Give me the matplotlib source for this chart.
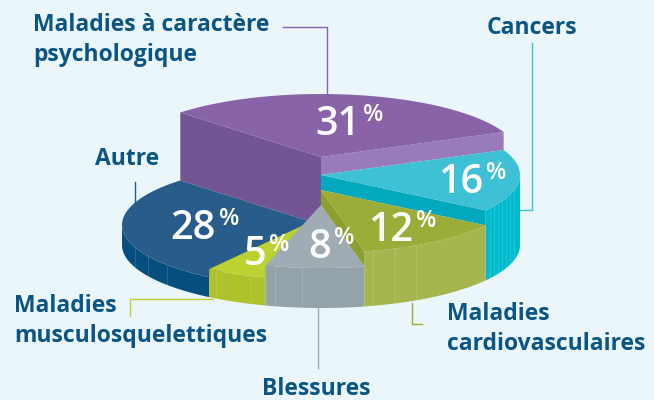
import numpy as np
import matplotlib
matplotlib.use("Agg")
import matplotlib.pyplot as plt
from matplotlib.patches import Polygon

# --- data, clockwise from the purple slice ---
categories = ["Maladies à caractère\npsychologique", "Cancers", "Maladies\ncardiovasculaires",
              "Blessures", "Maladies\nmusculosquelettiques", "Autre"]
values = [31, 16, 12, 8, 5, 28]

# --- look ---
BG = "#EAF6F9"
TXT = "#0B5585"
plt.rcParams["font.family"] = "Open Sans"

top_cols = ["#8863A8", "#3EC1D5", "#9CAC38", "#A0ACB3", "#BDD231", "#285C8A"]
rim_cols = ["#8863A8", "#00BACD", "#A7B54E", "#94A2AA", "#AFC22B", "#044F80"]
# wall on the clockwise side, and the level it drops to
wall_cols = ["#997ABA", "#00A9BE", "#8B9F2F", None, None, None]
levels = [157, 175, 190, 205, 217, 225]  # y of the slice centre on its top face
seams = [[], [490, 494, 498, 502, 506, 510, 514], [373, 395, 416], [275, 302], [216, 251], [135, 148, 167]]

CX, RX, RY, BASE = 321, 199, 63, 245
START = 135

fig = plt.figure(figsize=(6.54, 4), dpi=100, facecolor=BG)
ax = fig.add_axes([0, 0, 1, 1])
ax.set_xlim(0, 654)
ax.set_ylim(400, 0)
ax.axis("off")


def arc(a1, a2, cy):
    t = np.radians(np.linspace(a1, a2, 80))
    return np.column_stack([CX + RX * np.cos(t), cy - RY * np.sin(t)])


def wall(angle, cy, drop, col, z):
    p = arc(angle, angle, cy)[0]
    ax.add_patch(Polygon([[CX, cy], p, [p[0], p[1] + drop], [CX, cy + drop]], fc=col, ec="none", zorder=z))


# angles from the values
edges = START - np.cumsum([0] + values) * 3.6
spans = list(zip(edges[:-1], edges[1:]))


def draw_slice(i, z):
    a1, a2 = spans[i]
    cy = levels[i]
    # outer rim, only the front half shows
    if a2 < 0:
        f1, f2 = min(a1, 0), max(a2, -180)
        ax.add_patch(Polygon(np.vstack([arc(f1, f2, cy), arc(f2, f1, BASE)]), fc=rim_cols[i], ec="none", zorder=z))
        for x in seams[i]:
            s = np.sqrt(1 - ((x - CX) / RX) ** 2)
            ax.plot([x, x], [cy + RY * s, BASE + RY * s], color="white", lw=0.5, alpha=0.2, zorder=z)
    if wall_cols[i] is not None:
        wall(a2, cy, levels[i + 1] - cy, wall_cols[i], z)
    ax.add_patch(Polygon(np.vstack([[CX, cy], arc(a1, a2, cy)]), fc=top_cols[i], ec="none", zorder=z + 0.5))


# paint order back to front
for z, i in enumerate([0, 1, 5, 4, 3, 2]):
    draw_slice(i, 2 + z * 2)

# purple wall on the left side, above the blue slice
wall(START, levels[0], levels[5] - levels[0], "#745594", 2.2)

# leader lines
ax.plot([283, 327, 327], [27, 27, 93], color="#8863A8", lw=1, zorder=1)
ax.plot([532, 532, 505], [43, 210, 210], color="#3EC1D5", lw=1, zorder=1)
ax.plot([135, 135], [182, 205], color="#285C8A", lw=1, zorder=1)
ax.plot([130, 130, 213], [316, 299, 299], color="#BDD231", lw=1, zorder=1)
ax.plot([412, 412, 422], [303, 324, 324], color="#9CAC38", lw=1, zorder=1)
ax.plot([318, 318], [308, 368], color="#A0ACB3", lw=1, zorder=1)

# category labels
lab = dict(color=TXT, fontsize=16.5, fontweight="bold", linespacing=1.31, zorder=30)
ax.text(33, 40, categories[0], ha="left", va="center", **lab)
ax.text(532, 28, categories[1], ha="center", va="center", **lab)
ax.text(447, 329, categories[2], ha="left", va="center", **lab)
ax.text(316, 395, categories[3], ha="center", va="baseline", **lab)
ax.text(14, 321, categories[4], ha="left", va="center", **lab)
ax.text(127, 159, categories[5], ha="center", va="center", **lab)

# percent labels: right end of the number, y of the number
num_pos = [(360, 120), (483, 178), (413, 226), (331, 243), (266, 250), (216, 224)]
for v, (x, y) in zip(values, num_pos):
    ax.text(x, y, str(v), color="white", fontsize=28.5, fontweight=600, ha="right", va="center_baseline", zorder=30)
    ax.text(x + 3, y - 8, "%", color="white", fontsize=17, fontweight=600, ha="left", va="center_baseline", zorder=30)

fig.savefig("out.png", dpi=100, facecolor=BG)
